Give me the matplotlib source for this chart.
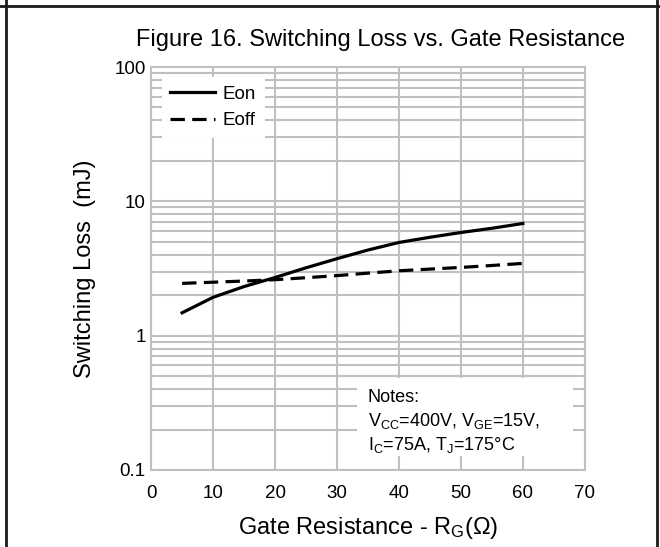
#!/usr/bin/env python3
"""Switching loss vs. gate resistance (Figure 16)."""
import matplotlib

matplotlib.use("Agg")
import matplotlib.pyplot as plt
import matplotlib.ticker
from matplotlib.lines import Line2D
from matplotlib.patches import Rectangle

plt.rcParams["font.family"] = ["Liberation Sans", "DejaVu Sans"]
plt.rcParams["mathtext.default"] = "regular"

# gate resistance (ohm) and losses (mJ)
rg = [5, 10, 15, 20, 25, 30, 35, 40, 45, 50, 55, 60]
eon = [1.48, 1.93, 2.32, 2.71, 3.20, 3.74, 4.34, 4.94, 5.40, 5.86, 6.30, 6.84]
eoff = [2.45, 2.50, 2.55, 2.61, 2.70, 2.80, 2.92, 3.04, 3.13, 3.22, 3.33, 3.45]

xticks = [0, 10, 20, 30, 40, 50, 60, 70]
yticks = [0.1, 1, 10, 100]
ytick_labels = ["0.1", "1", "10", "100"]

GRID = "#c0c0c0"

fig = plt.figure(figsize=(6.6, 5.47), dpi=100)
ax = fig.add_axes([0.229, 0.1408, 0.657, 0.7367])

ax.plot(rg, eon, "-", color="black", lw=2.3, label="Eon", zorder=5)
ax.plot(rg, eoff, "--", color="black", lw=2.3, dashes=(4.5, 2.3), label="Eoff", zorder=5)

ax.set_yscale("log")
ax.set_xlim(0, 70)
ax.set_ylim(0.1, 100)
ax.set_xticks(xticks)
ax.set_yticks(yticks)
ax.set_yticklabels(ytick_labels)
ax.yaxis.set_minor_locator(matplotlib.ticker.LogLocator(base=10, subs=range(2, 10)))
ax.yaxis.set_minor_formatter(matplotlib.ticker.NullFormatter())
ax.tick_params(which="both", length=0, labelsize=13.5)
ax.tick_params(axis="x", pad=11)
ax.tick_params(axis="y", pad=4)
ax.grid(True, which="both", color=GRID, lw=1.5)
ax.set_axisbelow(True)
for sp in ax.spines.values():
    sp.set_color(GRID)
    sp.set_linewidth(1.5)

ax.set_xlabel("Gate Resistance - R$_G$(\u03a9)", fontsize=17, labelpad=9)
ax.set_ylabel("Switching Loss  (mJ)", fontsize=17, labelpad=13)

handles = [
    Line2D([0], [0], color="black", lw=2.3, label="Eon"),
    Line2D([0], [0], color="black", lw=2.3, dashes=(4.5, 2.3), label="Eoff"),
]
leg = ax.legend(
    handles=handles,
    loc="upper left",
    bbox_to_anchor=(0.025, 0.975),
    borderaxespad=0,
    fontsize=13.5,
    handlelength=2.4,
    handletextpad=0.4,
    labelspacing=0.5,
    fancybox=False,
    framealpha=1,
    edgecolor="none",
    facecolor="white",
    borderpad=0.45,
)
leg.set_zorder(6)

# white box behind the notes
ax.add_patch(
    Rectangle((0.475, 0.035), 0.497, 0.193, transform=ax.transAxes,
              facecolor="white", edgecolor="none", zorder=3)
)
ax.text(
    0.5, 0.2,
    "Notes:\nV$_{CC}$=400V, V$_{GE}$=15V,\nI$_C$=75A, T$_J$=175\u00b0C",
    transform=ax.transAxes, fontsize=13, va="top", ha="left",
    linespacing=1.3, zorder=4,
)

fig.text(0.576, 0.927, "Figure 16. Switching Loss vs. Gate Resistance",
         ha="center", va="center", fontsize=17)

# table cell border
fig.add_artist(Line2D([6.5 / 660, 6.5 / 660], [0, 1], color="#1a1a1a", lw=2))
fig.add_artist(Line2D([657 / 660, 657 / 660], [0, 1], color="#1a1a1a", lw=2))
fig.add_artist(Line2D([0, 1], [1 - 6 / 547, 1 - 6 / 547], color="#1a1a1a", lw=2))

fig.savefig("out.png", dpi=100)
